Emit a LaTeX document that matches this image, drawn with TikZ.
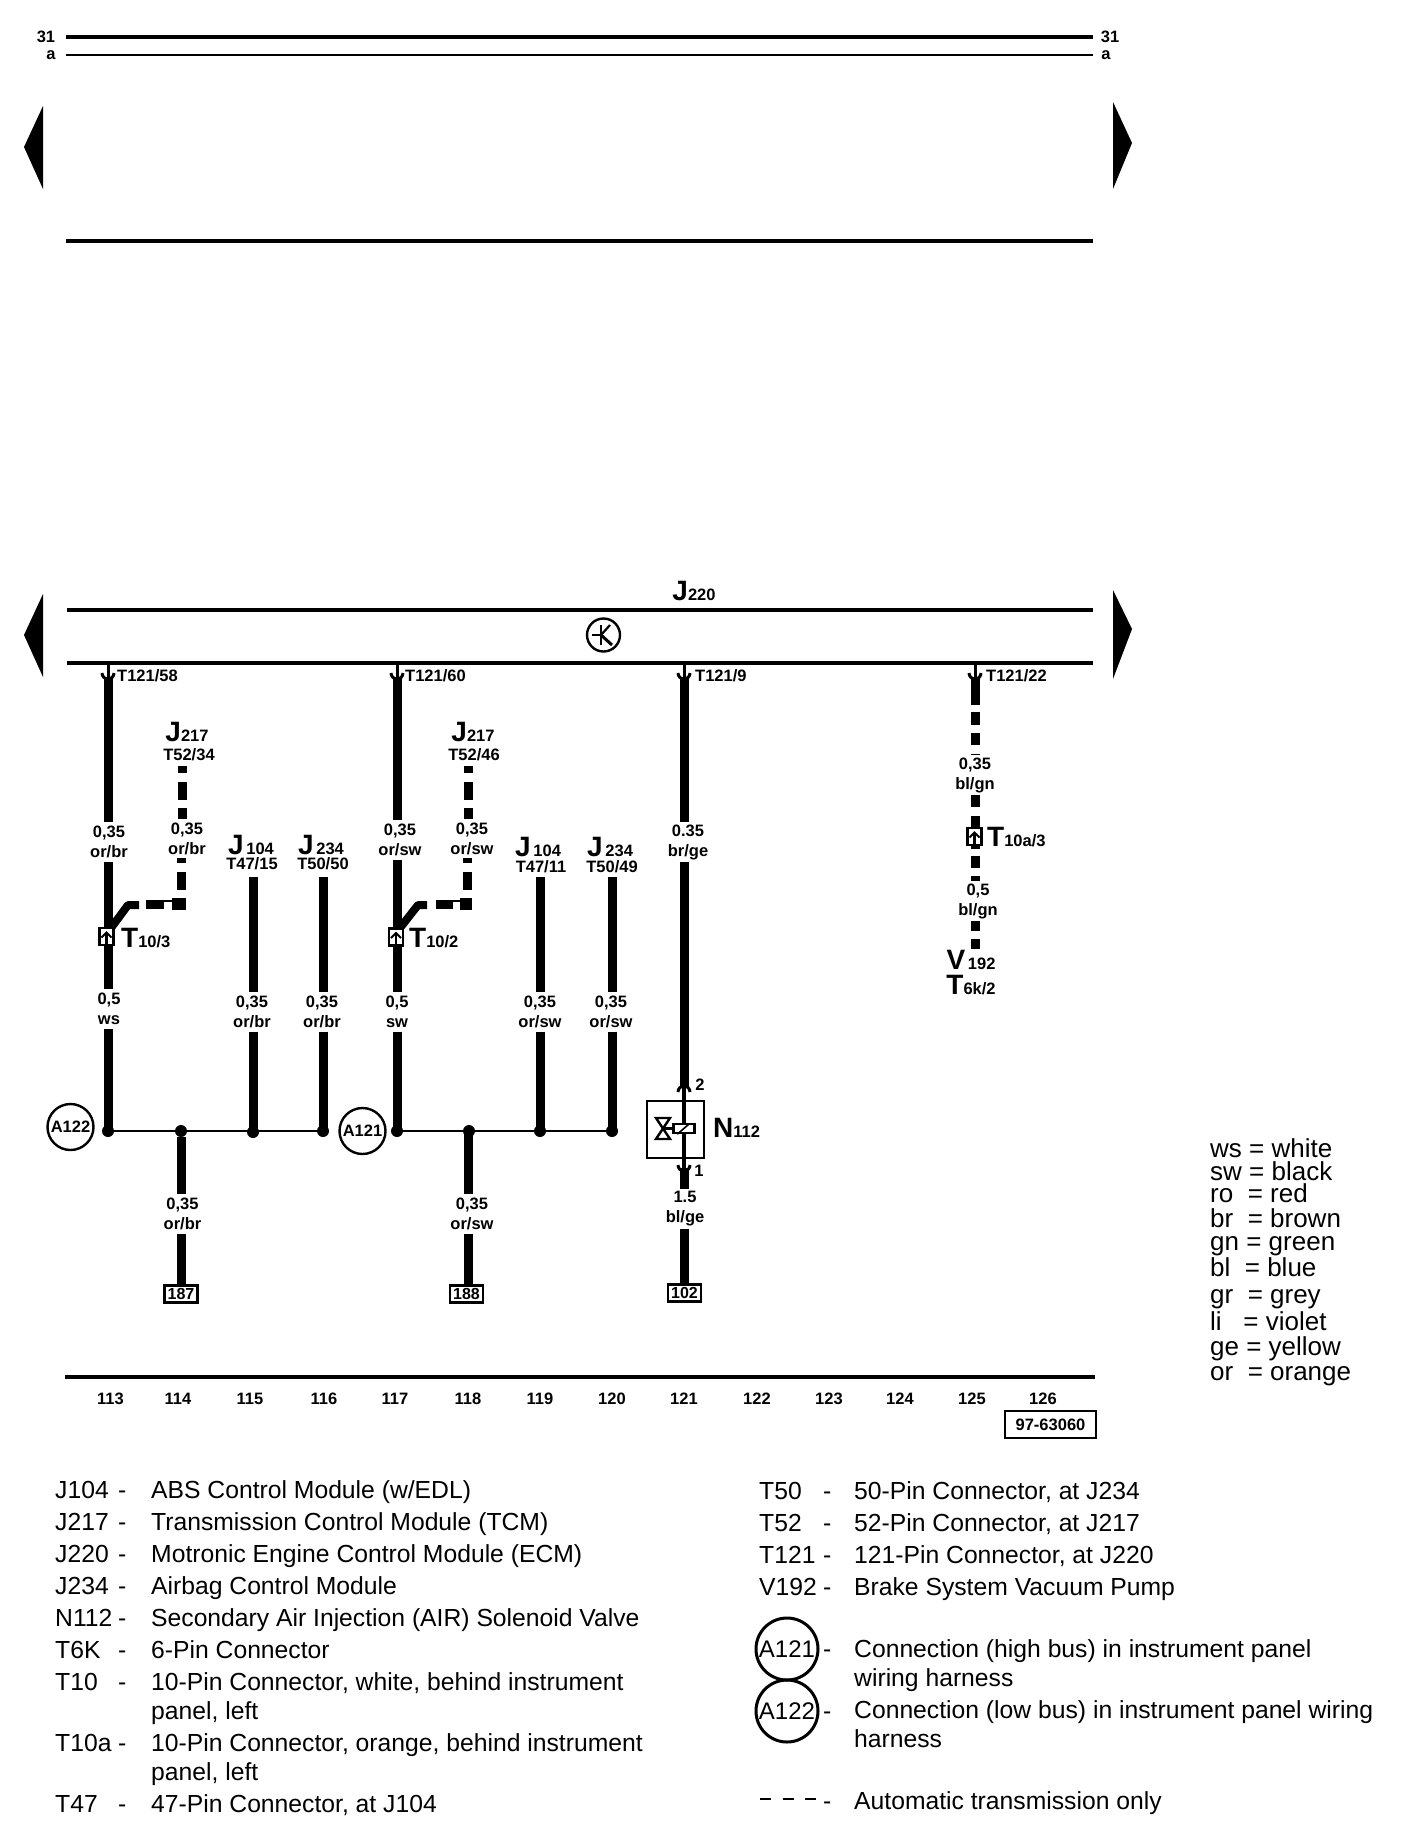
\documentclass[tikz,border=0pt]{standalone}
\usepackage{fontspec}
\setmainfont{Liberation Sans}
\newcommand{\bigsub}[2]{{\fontsize{28}{28}\selectfont #1}{\fontsize{16.5}{16.5}\selectfont #2}}
\tikzset{
  wire/.style={line width=9pt},
  bus/.style={line width=2.2pt},
  rail/.style={line width=3.2pt},
  pin/.style={line width=3pt},
  gauge/.style={font=\fontsize{16.5}{20}\selectfont\bfseries, align=center, inner sep=0pt, minimum height=39pt, minimum width=1pt},
  ref/.style={font=\fontsize{16.5}{17}\selectfont\bfseries, inner sep=0pt},
  bigref/.style={font=\bfseries, inner sep=0pt},
  joint/.style={circle, fill=black, inner sep=0pt, minimum size=12pt},
  target/.style={draw, line width=2.4pt, fill=white, inner sep=0pt, minimum width=33pt, minimum height=17pt, font=\fontsize{16}{16}\selectfont\bfseries},
  plug/.style={draw, line width=2.8pt, fill=white, inner sep=0pt, minimum width=14pt, minimum height=17pt},
  bubble/.style={draw, circle, line width=2.4pt, inner sep=0pt, minimum size=46pt, font=\fontsize{16.5}{17}\selectfont\bfseries},
  legend/.style={font=\fontsize{24.7}{25}\selectfont, inner sep=0pt, anchor=base west},
  keytext/.style={font=\fontsize{26}{26}\selectfont, inner sep=0pt, anchor=base west},
}
\begin{document}
\begin{tikzpicture}[x=1pt, y=-1pt]
  \useasboundingbox (0,0) rectangle (1408,1844);
  % rails
  \coordinate (railL1) at (66,37);   \coordinate (railR1) at (1093,37);
  \coordinate (railL2) at (66,55);   \coordinate (railR2) at (1093,55);
  \coordinate (railL3) at (66,241);  \coordinate (railR3) at (1093,241);
  \coordinate (ecmL1) at (67,610);   \coordinate (ecmR1) at (1093,610);
  \coordinate (ecmL2) at (67,663);   \coordinate (ecmR2) at (1093,663);
  \coordinate (baseL) at (65,1377);  \coordinate (baseR) at (1095,1377);
  \draw[rail] (railL1) -- (railR1);
  \draw[line width=2pt] (railL2) -- (railR2);
  \draw[rail] (railL3) -- (railR3);
  \draw[rail] (ecmL1) -- (ecmR1);
  \draw[rail] (ecmL2) -- (ecmR2);
  \draw[rail] (baseL) -- (baseR);
  \node[ref] (n31l) at (46,37) {31};
  \node[ref] (nal) at (51,55) {a};
  \node[ref] (n31r) at (1110,37) {31};
  \node[ref] (nar) at (1106,55) {a};
  % page arrows
  \fill (43,106) -- (24,147) -- (43,189) -- cycle;
  \fill (1113,102) -- (1132,143) -- (1113,189) -- cycle;
  \fill (43,594) -- (24,635) -- (43,677) -- cycle;
  \fill (1113,590) -- (1132,629) -- (1113,679) -- cycle;
  % control module
  \node[bigref] (J220) at (694,591) {\bigsub{J}{220}};
  \node[draw, circle, line width=2.4pt, minimum size=33pt, inner sep=0pt] (ecm) at (603.5,635) {};
  \coordinate (ecmA) at (592,635);
  \coordinate (ecmB) at (601,635);
  \draw[line width=2.2pt] (ecmA) -- (ecmB);
  \draw[line width=2.2pt] (601,625) -- (601,645);
  \draw[line width=2.2pt] (ecmB) -- (610,625);
  \draw[line width=3pt] (ecmB) -- (612,645);
  % pins at the module
  \foreach \x/\t/\l in {108/T121\slash 58/117, 397/T121\slash 60/405, 684/T121\slash 9/695, 975/T121\slash 22/986}{
    \coordinate (top\x) at (\x,664);
    \coordinate (cup\x) at (\x-6,673);
    \draw[pin] (top\x) -- (\x,680);
    \draw[pin] (cup\x) arc[start angle=180, end angle=0, radius=6];
    \node[ref, anchor=west] (pin\x) at (\l,676) {\t};
  }
  % wire 113
  \coordinate (w113a) at (108,678);
  \coordinate (w113b) at (108,1131);
  \node[gauge] (g113a) at (109,842) {0,35\\or/br};
  \node[gauge] (g113b) at (109,1009) {0,5\\ws};
  \draw[wire] (w113a) -- (w113a |- g113a.north);
  \draw[wire] (w113b |- g113a.south) -- (w113b |- g113b.north);
  \draw[wire] (w113b |- g113b.south) -- (w113b);
  % wire 117
  \coordinate (w117a) at (397,678);
  \coordinate (w117b) at (397,1131);
  \node[gauge] (g117a) at (400,840) {0,35\\or/sw};
  \node[gauge] (g117b) at (397,1012) {0,5\\sw};
  \draw[wire] (w117a) -- (w117a |- g117a.north);
  \draw[wire] (w117b |- g117a.south) -- (w117b |- g117b.north);
  \draw[wire] (w117b |- g117b.south) -- (w117b);
  % branches from J217
  \node[bigref] (J217a) at (187,732) {\bigsub{J}{217}};
  \node[ref] (T5234) at (189,755) {T52/34};
  \node[gauge] (g114a) at (187,839) {0,35\\or/br};
  \node[bigref] (J217b) at (473,732) {\bigsub{J}{217}};
  \node[ref] (T5246) at (474,755) {T52/46};
  \node[gauge] (g118a) at (472,839) {0,35\\or/sw};
  \coordinate (d114) at (182.5,766);
  \coordinate (d118) at (468,766);
  \draw[wire, dash pattern=on 7pt off 9pt on 18pt off 8pt on 30pt] (d114) -- (d114 |- g114a.north);
  \draw[wire, dash pattern=on 7pt off 9pt on 18pt off 8pt on 30pt] (d118) -- (d118 |- g118a.north);
  \node[fill=black, inner sep=0pt, minimum width=14pt, minimum height=12pt] (s114) at (179,904) {};
  \node[fill=black, inner sep=0pt, minimum width=12pt, minimum height=12pt] (s118) at (466,904) {};
  \coordinate (e114) at (181,858);
  \coordinate (e118) at (467,858);
  \draw[wire, dash pattern=on 5pt off 9pt on 18pt off 8pt on 30pt] (e114) -- (e114 |- s114.north);
  \draw[wire, dash pattern=on 5pt off 9pt on 18pt off 8pt on 30pt] (e118) -- (e118 |- s118.north);
  \coordinate (h114a) at (164,904);  \coordinate (h114b) at (146,904);
  \coordinate (h118a) at (453,904);  \coordinate (h118b) at (436,904);
  \draw[wire] (h114a) -- (h114b);
  \draw[wire] (h118a) -- (h118b);
  \draw[line width=1.5pt] (h114a) ++(0,-3) -- (172,901);
  \draw[line width=1.5pt] (h118a) ++(0,-3) -- (460,901);
  \coordinate (k114a) at (111,928);  \coordinate (k114b) at (128,905);  \coordinate (k114c) at (139,905);
  \coordinate (k118a) at (400,928);  \coordinate (k118b) at (418,905);  \coordinate (k118c) at (427,905);
  \draw[line width=8pt, line join=round] (k114a) -- (k114b) -- (k114c);
  \draw[line width=8pt, line join=round] (k118a) -- (k118b) -- (k118c);
  % connectors
  \foreach \n/\x/\y in {c113/106.5/936.5, c117/396/937, c125/974.5/836.5}{
    \node[plug] (\n) at (\x,\y) {};
    \draw[line width=2.4pt] (\n.south) -- ++(0,-13);
    \draw[line width=2pt] (\n.center) ++(-5,1) -- ++(5,-5) -- ++(5,5);
  }
  \node[bigref, anchor=west] (T103) at (121,938) {\bigsub{T}{10/3}};
  \node[bigref, anchor=west] (T102) at (409,938) {\bigsub{T}{10/2}};
  \node[bigref, anchor=west] (T10a) at (987,837) {\bigsub{T}{10a/3}};
  % wires coming from the other modules
  \foreach \x/\gx/\jx/\jy/\J/\tx/\ty/\T/\g in {253/252/251/845/104/252/864/T47\slash 15/or\slash br,
      323/322/321/845/234/323/864/T50\slash 50/or\slash br,
      540/540/538/847/104/541/867/T47\slash 11/or\slash sw,
      612/611/610/847/234/612/867/T50\slash 49/or\slash sw}{
    \coordinate (w\x a) at (\x,877);
    \coordinate (w\x b) at (\x,1131);
    \node[bigref] (J\x) at (\jx,\jy) {\bigsub{J}{\,\J}};
    \node[ref] (T\x) at (\tx,\ty) {\T};
    \node[gauge] (g\x) at (\gx,1012) {0,35\\\g};
    \draw[wire] (w\x a) -- (w\x a |- g\x.north);
    \draw[wire] (w\x b |- g\x.south) -- (w\x b);
  }
  % bus lines
  \node[joint] (b113) at (108,1131) {};
  \node[joint] (b114) at (181,1131) {};
  \node[joint] (b115) at (253,1132) {};
  \node[joint] (b116) at (323,1131) {};
  \node[joint] (b117) at (397,1131) {};
  \node[joint] (b118) at (469,1131) {};
  \node[joint] (b119) at (540,1131) {};
  \node[joint] (b120) at (612,1131) {};
  \draw[bus] (b113) -- (b116);
  \draw[bus] (b117) -- (b120);
  \node[bubble] (A122) at (70.5,1127) {A122};
  \node[bubble] (A121) at (362.5,1131) {A121};
  % drops to the other pages
  \node[gauge] (g114b) at (182.5,1214) {0,35\\or/br};
  \node[gauge] (g118b) at (472,1214) {0,35\\or/sw};
  \node[target] (t187) at (181,1294) {187};
  \node[target] (t188) at (466.5,1294) {188};
  \draw[wire] (b114) -- (b114 |- g114b.north);
  \draw[wire] (b114 |- g114b.south) -- (b114 |- t187.north);
  \coordinate (w118) at (468.5,1131);
  \draw[wire] (w118) -- (w118 |- g118b.north);
  \draw[wire] (w118 |- g118b.south) -- (w118 |- t188.north);
  % wire 121 and solenoid valve
  \coordinate (w121a) at (684,678);
  \coordinate (w121b) at (684,1087);
  \coordinate (w121c) at (684,1168);
  \node[gauge] (g121a) at (688,842) {0.35\\br/ge};
  \node[gauge] (g121b) at (685,1209) {1.5\\bl/ge};
  \node[target] (t102) at (684.5,1293) {102};
  \draw[wire] (w121a) -- (w121a |- g121a.north);
  \draw[wire] (w121b |- g121a.south) -- (w121b);
  \draw[wire] (w121c) -- (w121c |- g121b.north);
  \draw[wire] (w121c |- g121b.south) -- (w121c |- t102.north);
  \node[draw, line width=2.4pt, inner sep=0pt, minimum width=57pt, minimum height=57pt, fill=white] (N112box) at (675.5,1129.5) {};
  \draw[line width=3.4pt] (w121b) -- (w121c);
  \draw[pin] (678,1092) arc[start angle=180, end angle=360, radius=6];
  \draw[pin] (678,1165) arc[start angle=180, end angle=0, radius=6];
  \node[draw, line width=2.4pt, fill=white, inner sep=0pt, minimum width=21pt, minimum height=9pt] (coil) at (684,1128.5) {};
  \draw[line width=1.6pt] (coil.south west) ++(5,0) -- (689,1124);
  \draw[line width=2.4pt] (656,1118) -- (670,1118) -- (656,1139) -- (670,1139) -- cycle;
  \draw[line width=2.4pt] (664,1128.5) -- (coil.west);
  \node[ref] (p2) at (700,1085) {2};
  \node[ref] (p1) at (699,1171) {1};
  \node[bigref, anchor=west] (N112) at (713,1128) {\bigsub{N}{112}};
  % wire 125, dashed
  \coordinate (w125a) at (975,678);
  \coordinate (w125b) at (975,950);
  \node[gauge] (g125a) at (975,775) {0,35\\bl/gn};
  \node[gauge] (g125b) at (978,901) {0,5\\bl/gn};
  \draw[wire, dash pattern=on 27pt off 7pt on 13pt off 8pt on 12pt off 9pt on 30pt] (w125a) -- (w125a |- g125a.north);
  \draw[wire, dash pattern=on 12pt off 9pt on 20pt] (w125b |- g125a.south) -- (w125b |- c125.north);
  \draw[wire, dash pattern=on 3pt off 7pt on 12pt off 8pt on 30pt] (w125b |- c125.south) -- (w125b |- g125b.north);
  \draw[wire, dash pattern=on 10pt off 8pt on 10pt] (w125b |- g125b.south) -- (w125b);
  \node[bigref, anchor=center] (V192) at (971,960) {\bigsub{V}{\,192}};
  \node[bigref, anchor=center] (T6k) at (971,985) {\bigsub{T}{6k/2}};
  % colour key
  \foreach \y/\t in {1157/ws = white, 1180/sw = black, 1202/ro~~= red, 1227/br~~= brown, 1250/gn = green,
      1276/bl~~= blue, 1303/gr~~= grey, 1330/li~~~= violet, 1355/ge = yellow, 1380/or~~= orange}{
    \node[keytext] (key\y) at (1210,\y) {\t};
  }
  % column numbers
  \foreach \x/\n in {110.5/113, 178/114, 250/115, 324/116, 395/117, 468/118, 540/119, 612/120,
      684/121, 757/122, 829/123, 900/124, 972/125, 1043/126}{
    \node[ref] (col\n) at (\x,1399) {\n};
  }
  \node[draw, line width=2.4pt, inner sep=0pt, minimum width=91pt, minimum height=27pt, font=\fontsize{16.5}{16}\selectfont\bfseries] (docno) at (1050.5,1424.5) {97-63060};
  % parts list, left
  \foreach \y/\c/\d in {1498/J104/{ABS Control Module (w/EDL)},
      1530/J217/{Transmission Control Module (TCM)},
      1562/J220/{Motronic Engine Control Module (ECM)},
      1594/J234/{Airbag Control Module},
      1626/N112/{Secondary Air Injection (AIR) Solenoid Valve},
      1658/T6K/{6-Pin Connector},
      1690/T10/{10-Pin Connector, white, behind instrument},
      1719/{}/{panel, left},
      1751/T10a/{10-Pin Connector, orange, behind instrument},
      1780/{}/{panel, left},
      1812/T47/{47-Pin Connector, at J104}}{
    \node[legend] (lc\y) at (55,\y) {\c};
    \node[legend] (ld\y) at (151,\y) {\d};
  }
  \foreach \y in {1498,1530,1562,1594,1626,1658,1690,1751,1812}{
    \node[legend] (ldash\y) at (118,\y) {-};
  }
  % parts list, right
  \foreach \y/\c/\d in {1499/T50/{50-Pin Connector, at J234},
      1531/T52/{52-Pin Connector, at J217},
      1563/T121/{121-Pin Connector, at J220},
      1595/V192/{Brake System Vacuum Pump}}{
    \node[legend] (rc\y) at (759,\y) {\c};
    \node[legend] (rdash\y) at (823,\y) {-};
    \node[legend] (rd\y) at (854,\y) {\d};
  }
  \node[draw, circle, line width=3pt, inner sep=0pt, minimum size=62pt, font=\fontsize{24}{24}\selectfont] (key121) at (787,1649) {A121};
  \node[draw, circle, line width=3pt, inner sep=0pt, minimum size=62pt, font=\fontsize{24}{24}\selectfont] (key122) at (787,1711) {A122};
  \node[legend] (rdash1) at (823,1657) {-};
  \node[legend] (rdash2) at (823,1719) {-};
  \node[legend] (rdash3) at (823,1809) {-};
  \node[legend] (r1) at (854,1657) {Connection (high bus) in instrument panel};
  \node[legend] (r2) at (854,1686) {wiring harness};
  \node[legend] (r3) at (854,1718) {Connection (low bus) in instrument panel wiring};
  \node[legend] (r4) at (854,1747) {harness};
  \node[legend] (r5) at (854,1809) {Automatic transmission only};
  \coordinate (autoa) at (760,1799);
  \coordinate (autob) at (816,1799);
  \draw[line width=2.4pt, dash pattern=on 11pt off 11.5pt] (autoa) -- (autob);
\end{tikzpicture}
\end{document}
